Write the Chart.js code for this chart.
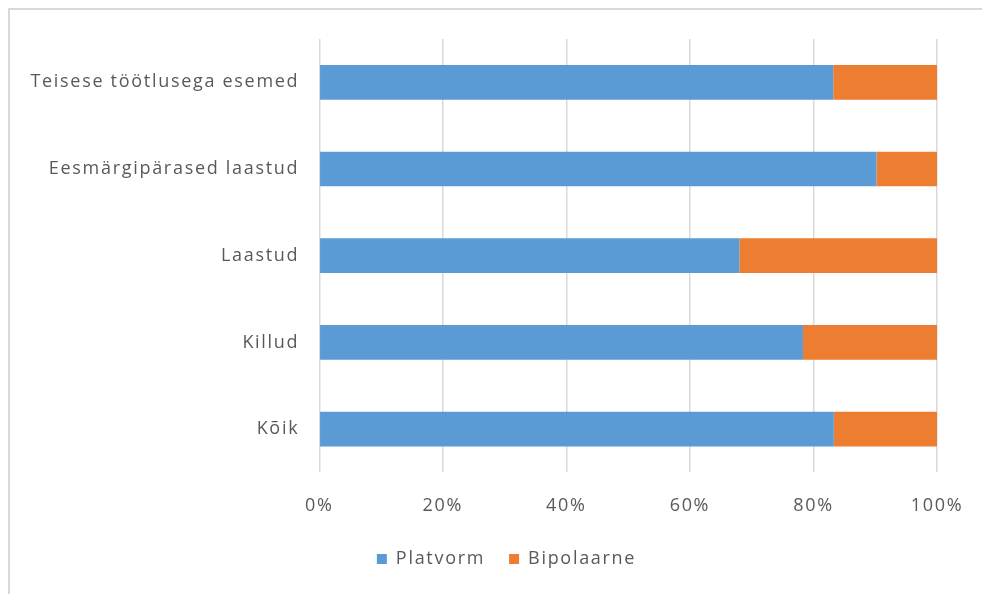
<!DOCTYPE html>
<html>
<head>
<meta charset="utf-8">
<script src="https://cdn.jsdelivr.net/npm/chart.js@4/dist/chart.umd.min.js"></script>
<style>
	html, body { margin: 0; padding: 0; background: #fff; }
	#wrap { position: relative; width: 982px; height: 594px; overflow: hidden; }
	#frame { position: absolute; left: 8px; top: 8px; width: 1000px; height: 600px; border-left: 2px solid #d9d9d9; border-top: 2px solid #d9d9d9; }
	#chart { position: absolute; left: 0; top: 0; }
</style>
</head>
<body>
<div id="wrap">
	<div id="frame"></div>
	<canvas id="chart" width="982" height="594"></canvas>
</div>
<script>
var categories = ['Teisese töötlusega esemed', 'Eesmärgipärased laastud', 'Laastud', 'Killud', 'Kõik'];
var platvorm = [83.2, 90.2, 68.0, 78.3, 83.3];
var bipolaarne = [16.8, 9.8, 32.0, 21.7, 16.7];
var seriesNames = ['Platvorm', 'Bipolaarne'];
var xTicks = [0, 20, 40, 60, 80, 100];

var textColor = '#595959';
var font = { family: '"Open Sans", sans-serif', size: 18 };

// Excel-like wide text spacing, and legend centred under the whole frame
var tweaks = {
	id: 'tweaks',
	beforeLayout: function (chart) { chart.ctx.letterSpacing = '1.7px'; },
	afterLayout: function (chart) { chart.legend.left += 76; },
	beforeDraw: function (chart) { chart.ctx.letterSpacing = '1.7px'; }
};

new Chart(document.getElementById('chart'), {
	type: 'bar',
	data: {
		labels: categories,
		datasets: [
			{ label: seriesNames[0], data: platvorm, backgroundColor: '#5b9bd5' },
			{ label: seriesNames[1], data: bipolaarne, backgroundColor: '#ed7d31' }
		]
	},
	options: {
		indexAxis: 'y',
		responsive: false,
		animation: false,
		layout: { autoPadding: false, padding: { left: 0, right: 45, top: 39, bottom: 16 } },
		datasets: { bar: { categoryPercentage: 1, barPercentage: 0.4 } },
		scales: {
			x: {
				stacked: true,
				min: 0,
				max: 100,
				afterBuildTicks: function (scale) {
					scale.ticks = xTicks.map(function (v) { return { value: v }; });
				},
				afterFit: function (scale) {
					scale.height -= 13;
					scale.paddingLeft = 0;
					scale.paddingRight = 0;
				},
				ticks: {
					color: textColor,
					font: font,
					padding: 22.5,
					callback: function (v) { return v + '%'; }
				},
				grid: { color: '#d9d9d9', lineWidth: 1.5, drawTicks: false },
				border: { display: false }
			},
			y: {
				stacked: true,
				afterFit: function (scale) { scale.width = 319.3; },
				ticks: { color: textColor, font: font, padding: 20 },
				grid: { display: false, drawTicks: false },
				border: { display: false }
			}
		},
		plugins: {
			legend: {
				position: 'bottom',
				labels: {
					color: textColor,
					font: font,
					boxWidth: 10,
					boxHeight: 10,
					padding: 24
				}
			},
			tooltip: { enabled: false }
		}
	},
	plugins: [tweaks]
});
</script>
</body>
</html>
